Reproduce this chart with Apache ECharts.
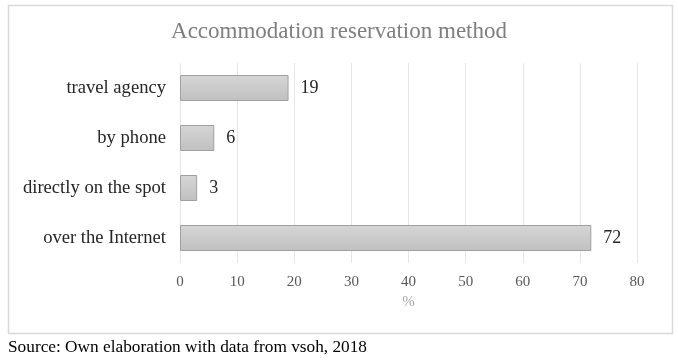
<!DOCTYPE html>
<html><head><meta charset="utf-8">
<script src="https://cdn.jsdelivr.net/npm/echarts@6/dist/echarts.min.js"></script>
<style>html,body{margin:0;padding:0;background:#fff}#c{width:678px;height:362px}</style>
</head><body><div id="c"></div>
<script>
const categories = ['over the Internet', 'directly on the spot', 'by phone', 'travel agency'];
const values = [72, 3, 6, 19];
const xTicks = { min: 0, max: 80, interval: 10 };
const titleText = 'Accommodation reservation method';
const axisName = '%';
const sourceText = 'Source: Own elaboration with data from vsoh, 2018';

const chart = echarts.init(document.getElementById('c'), null, { renderer: 'canvas' });
const serif = '"Liberation Serif", "Times New Roman", serif';
chart.setOption({
  animation: false,
  backgroundColor: '#fff',
  title: {
    text: titleText, left: 'center', top: 15,
    textStyle: { fontFamily: serif, fontSize: 23, fontWeight: 'normal', color: '#7f7f7f' }
  },
  grid: { left: 180, right: 41, top: 63, bottom: 99 },
  xAxis: {
    type: 'value', min: xTicks.min, max: xTicks.max, interval: xTicks.interval,
    name: axisName, nameLocation: 'middle', nameGap: 30,
    nameTextStyle: { fontFamily: serif, fontSize: 15, color: '#a6a6a6' },
    axisLine: { show: false }, axisTick: { show: false },
    axisLabel: { fontFamily: serif, fontSize: 15, color: '#595959', margin: 12 },
    splitLine: { lineStyle: { color: '#e6e6e6', width: 1 } }
  },
  yAxis: {
    type: 'category', data: categories,
    axisLine: { show: false }, axisTick: { show: false },
    axisLabel: { fontFamily: serif, fontSize: 18.6, color: '#262626', margin: 14 }
  },
  series: [{
    type: 'bar', data: values, barWidth: 26,
    itemStyle: {
      color: new echarts.graphic.LinearGradient(0, 0, 0, 1, [
        { offset: 0, color: '#d6d6d6' }, { offset: 1, color: '#c0c0c0' }
      ]),
      borderColor: '#a0a0a0', borderWidth: 1
    },
    label: { show: true, position: 'right', distance: 12, fontFamily: serif, fontSize: 18, color: '#262626' }
  }],
  graphic: [
    { type: 'rect', shape: { x: 8.5, y: 5.5, width: 664, height: 328 }, style: { fill: 'none', stroke: '#d9d9d9', lineWidth: 1.5 }, silent: true },
    { type: 'text', left: 8, top: 339, style: { text: sourceText, font: '17.3px ' + serif, fill: '#000' } }
  ]
});
</script></body></html>
